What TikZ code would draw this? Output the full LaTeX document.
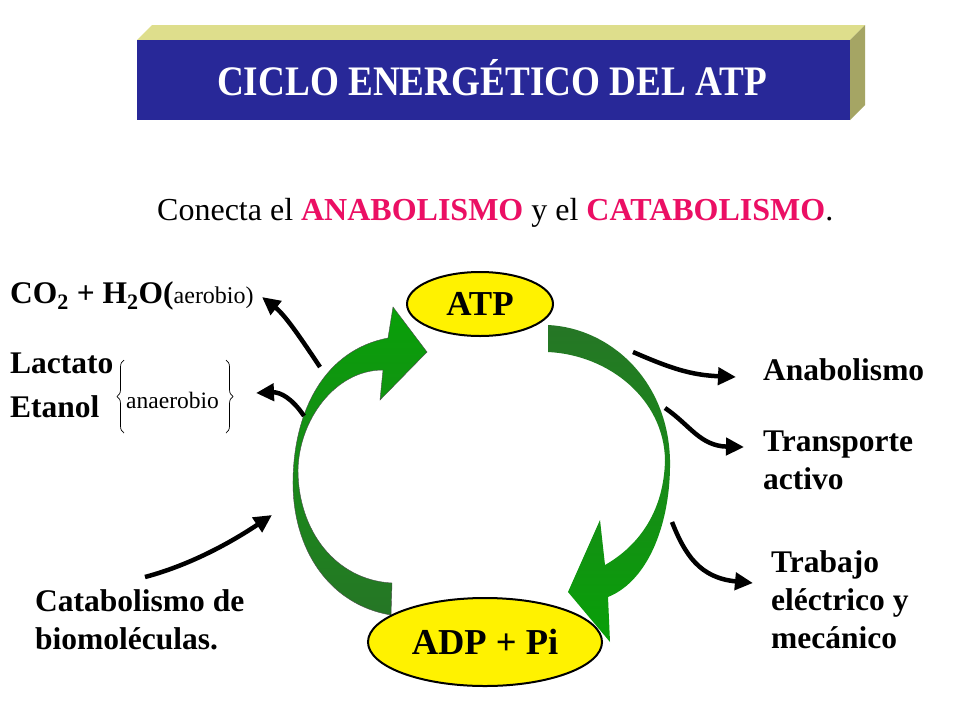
\documentclass[tikz,border=0pt]{standalone}
\usepackage{fontspec}
\setmainfont{Liberation Serif}
\usetikzlibrary{positioning}
\usetikzlibrary{arrows.meta}
\usetikzlibrary{decorations.pathreplacing}
\usetikzlibrary{shapes.geometric}

\definecolor{titleblue}{RGB}{40,40,152}
\definecolor{titletop}{RGB}{222,222,140}
\definecolor{titleside}{RGB}{165,165,100}
\definecolor{hotpink}{RGB}{235,15,100}
\definecolor{gdark}{RGB}{38,118,38}
\definecolor{gbright}{RGB}{8,160,8}

\begin{document}
\begin{tikzpicture}[x=1pt, y=-1pt,
    lbl/.style={font=\fontsize{31.5}{38}\selectfont\bfseries, inner sep=0pt, align=left},
    small/.style={font=\fontsize{23.5}{23.5}\selectfont, inner sep=0pt},
    pool/.style={ellipse, draw, line width=2pt, fill=yellow, inner sep=0pt},
    blk/.style={line width=4.5pt, -{Triangle[length=18pt, width=17pt]}},
    lgarrow/.style={top color=gbright, bottom color=gdark, draw=black!70, line width=0.4pt},
    rgarrow/.style={top color=gdark, bottom color=gbright, draw=none}]
  \useasboundingbox[fill=white] (0,0) rectangle (960,720);

  % title block
  \fill[titletop] (137,40) -- (152,25) -- (865,25) -- (850,40) -- cycle;
  \fill[titleside] (850,40) -- (865,25) -- (865,105) -- (850,120) -- cycle;
  \fill[titleblue] (137,40) rectangle (850,120);
  \node (title) [anchor=base, text=white, font=\fontsize{42}{42}\selectfont\bfseries]
    at (492,95) {\scalebox{0.885}[1]{CICLO ENERGÉTICO DEL ATP}};
  \node (sub) [anchor=base west, inner sep=0pt, font=\fontsize{32}{32}\selectfont] at (157,220)
    {Conecta el \textcolor{hotpink}{\bfseries ANABOLISMO} y el \textcolor{hotpink}{\bfseries CATABOLISMO}.};

  % cycle
  \shadedraw[lgarrow] (391,615) .. controls (330,605) and (292,550) .. (293,480)
    .. controls (294,410) and (325,350) .. (388,338)
    -- (393,307) -- (427,352) -- (380,400) -- (383,370)
    .. controls (335,370) and (299,420) .. (298,470)
    .. controls (298,530) and (335,580) .. (392,583) -- cycle;
  \shade[rgarrow] (548,325) .. controls (610,328) and (668,380) .. (670,460)
    .. controls (671,520) and (650,580) .. (608,597)
    -- (610,642) -- (568,592) -- (600,520) -- (605,565)
    .. controls (640,545) and (664,510) .. (665,460)
    .. controls (664,400) and (610,355) .. (548,352) -- cycle;
  \node (atp) [pool, minimum width=146pt, minimum height=64pt,
    font=\fontsize{35}{35}\selectfont\bfseries] at (480,304) {ATP};
  \node (adp) [pool, minimum width=234pt, minimum height=88pt,
    font=\fontsize{36.5}{36.5}\selectfont\bfseries] at (485,642) {ADP + Pi};

  % products and uses
  \node (co2) [lbl, anchor=base west] at (10,303)
    {CO\textsubscript{2} + H\textsubscript{2}O({\fontsize{24}{24}\selectfont\mdseries aerobio)}};
  \node (lact) [lbl, anchor=base west] at (10,373) {Lactato};
  \node (etan) [lbl, anchor=base west] at (10,417) {Etanol};
  \node (anaer) [small, anchor=base west] at (126,408) {anaerobio};
  \draw[line width=0.7pt, decorate, decoration={brace, amplitude=7pt}] (124,433) -- (124,360);
  \draw[line width=0.7pt, decorate, decoration={brace, amplitude=7pt}] (226,360) -- (226,433);
  \node (anab) [lbl, anchor=base west] at (763,380) {Anabolismo};
  \node (transp) [lbl, anchor=north west] at (763,431) {Transporte\\activo};
  \node (trab) [lbl, anchor=north west] at (771,550) {Trabajo\\eléctrico y\\mecánico};
  \node (catab) [lbl, anchor=north west] at (35,589) {Catabolismo de\\biomoléculas.};

  \coordinate (co2s) at (320,367);
  \coordinate (co2e) at (262,297);
  \coordinate (lacs) at (304,416);
  \coordinate (lace) at (256,393);
  \coordinate (anas) at (633,352);
  \coordinate (anae) at (736,377);
  \coordinate (tras) at (665,408);
  \coordinate (trae) at (744,447);
  \coordinate (trbs) at (672,522);
  \coordinate (trbe) at (753,583);
  \coordinate (cats) at (145,577);
  \coordinate (cate) at (272,515);

  \draw[blk] (co2s) .. controls (300,337) and (285,315) .. (co2e);
  \draw[blk] (lacs) .. controls (292,398) and (280,392) .. (lace);
  \draw[blk] (anas) .. controls (670,368) and (690,375) .. (anae);
  \draw[blk] (tras) .. controls (690,425) and (700,446) .. (trae);
  \draw[blk] (trbs) .. controls (685,555) and (700,578) .. (trbe);
  \draw[blk] (cats) .. controls (190,565) and (230,543) .. (cate);
\end{tikzpicture}
\end{document}
